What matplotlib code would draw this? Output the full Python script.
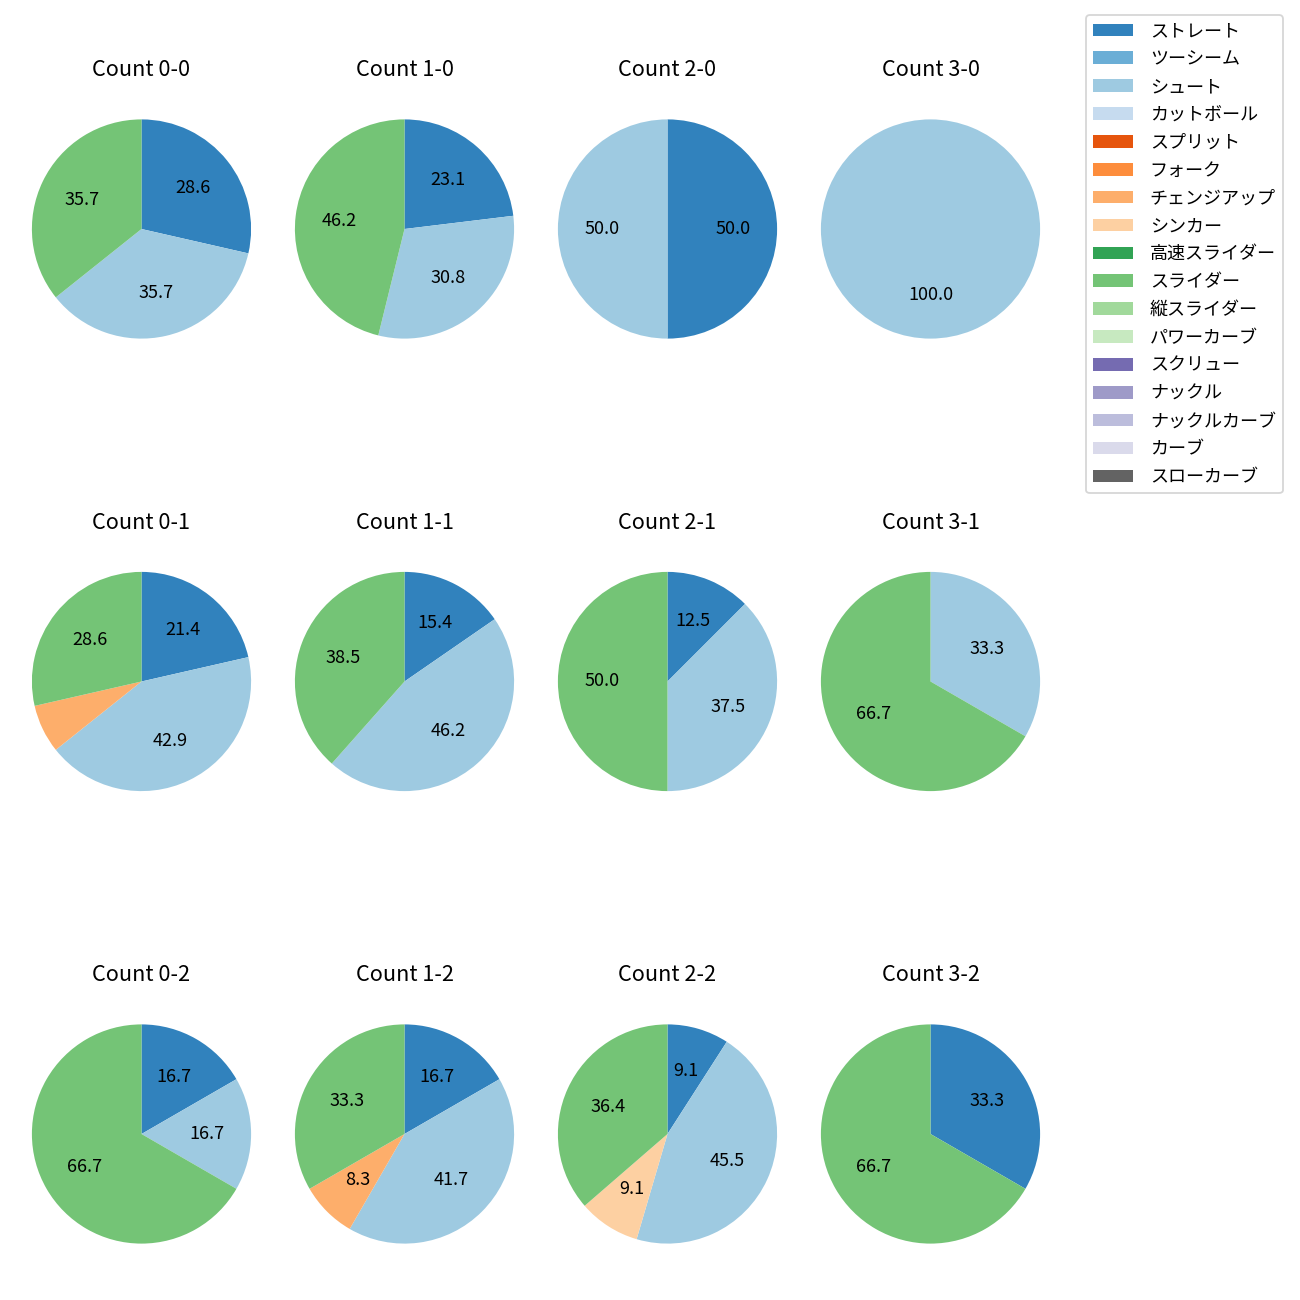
import matplotlib
matplotlib.use("Agg")
import matplotlib.pyplot as plt
from matplotlib.patches import Patch

plt.rcParams['font.family'] = ['Noto Sans CJK JP', 'DejaVu Sans']

# pitch types (legend order) and colours
pitch_types = ["ストレート", "ツーシーム", "シュート", "カットボール", "スプリット", "フォーク",
               "チェンジアップ", "シンカー", "高速スライダー", "スライダー", "縦スライダー",
               "パワーカーブ", "スクリュー", "ナックル", "ナックルカーブ", "カーブ", "スローカーブ"]
colors = list(plt.get_cmap("tab20c").colors[:17])

# counts per ball-strike situation: {pitch type: number of pitches}
counts = {
    "0-0": {"ストレート": 4, "シュート": 5, "スライダー": 5},
    "1-0": {"ストレート": 3, "シュート": 4, "スライダー": 6},
    "2-0": {"ストレート": 1, "シュート": 1},
    "3-0": {"シュート": 1},
    "0-1": {"ストレート": 3, "シュート": 6, "チェンジアップ": 1, "スライダー": 4},
    "1-1": {"ストレート": 2, "シュート": 6, "スライダー": 5},
    "2-1": {"ストレート": 1, "シュート": 3, "スライダー": 4},
    "3-1": {"シュート": 1, "スライダー": 2},
    "0-2": {"ストレート": 1, "シュート": 1, "スライダー": 4},
    "1-2": {"ストレート": 2, "シュート": 5, "チェンジアップ": 1, "スライダー": 4},
    "2-2": {"ストレート": 1, "シュート": 5, "シンカー": 1, "スライダー": 4},
    "3-2": {"ストレート": 1, "スライダー": 2},
}
balls = [0, 1, 2, 3]
strikes = [0, 1, 2]

W = H = 1300
fig = plt.figure(figsize=(10, 10), dpi=130)

size = 274
for r, s in enumerate(strikes):
    for c, b in enumerate(balls):
        key = f"{b}-{s}"
        cx = 141.5 + 263 * c
        cy = 229 + 452.5 * r
        ax = fig.add_axes([(cx - size / 2) / W, 1 - (cy + size / 2) / H, size / W, size / H])
        d = counts[key]
        labels = [p for p in pitch_types if p in d]
        vals = [d[p] for p in labels]
        cols = [colors[pitch_types.index(p)] for p in labels]
        ax.pie(vals, colors=cols, startangle=90, counterclock=False,
               autopct=lambda pct: f"{pct:.1f}" if pct > 8 else "",
               textprops={"fontsize": 10})
        ax.set_title(f"Count {key}", fontsize=12, pad=8.8)

handles = [Patch(facecolor=colors[i], label=p) for i, p in enumerate(pitch_types)]
fig.legend(handles=handles, loc="upper right", bbox_to_anchor=(1283 / W, 1 - 15 / H),
           borderaxespad=0, fontsize=10, handlelength=2.17, handletextpad=0.95,
           labelspacing=0.547)

fig.savefig("out.png", dpi=130)
